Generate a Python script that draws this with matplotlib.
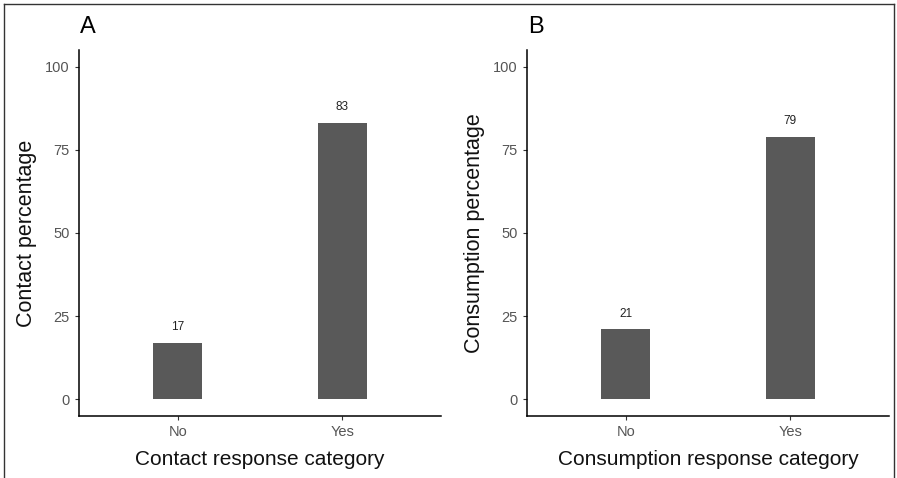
import matplotlib
matplotlib.use("Agg")
import matplotlib.pyplot as plt
from matplotlib.lines import Line2D

plt.rcParams['font.family'] = ['Liberation Sans', 'DejaVu Sans']

categories = ["No", "Yes"]
contact_values = [17, 83]
consumption_values = [21, 79]
yticks = [0, 25, 50, 75, 100]
panel_labels = ["A", "B"]
ylabels = ["Contact percentage", "Consumption percentage"]
xlabels = ["Contact response category", "Consumption response category"]

fig = plt.figure(figsize=(8.97, 4.78), dpi=100)
bar_color = "#595959"
tick_color = "#555555"

lefts = [79/897, 527/897]
width = 362/897
bottom = (478-416)/478
height = 366/478

for i, vals in enumerate([contact_values, consumption_values]):
    ax = fig.add_axes([lefts[i], bottom, width, height])
    x = list(range(1, len(categories)+1))
    ax.bar(x, vals, width=0.3, color=bar_color)
    for xi, v in zip(x, vals):
        ax.text(xi, v + 3, str(v), ha="center", va="bottom", fontsize=8.5, color="#222222")
    ax.set_xlim(0.4, 2.6)
    ax.set_ylim(-5, 105)
    ax.set_xticks(x)
    ax.set_xticklabels(categories)
    ax.set_yticks(yticks)
    ax.tick_params(axis="both", colors="#333333", labelcolor=tick_color, labelsize=10.5, length=3, width=0.8)
    for s in ["top", "right"]:
        ax.spines[s].set_visible(False)
    for s in ["left", "bottom"]:
        ax.spines[s].set_linewidth(1.1)
        ax.spines[s].set_color("black")
    ax.set_ylabel(ylabels[i], fontsize=15.5, labelpad=6, color="#111111")
    ax.set_xlabel(xlabels[i], fontsize=15, labelpad=8, color="#111111")
    fig.text(lefts[i] + 1/897, 1 - 27/478, panel_labels[i], fontsize=17, ha="left", va="center")

# outer frame
fig.add_artist(Line2D([4/897, 4/897], [0, 1 - 4/478], transform=fig.transFigure, color="#333333", lw=1))
fig.add_artist(Line2D([4/897, 894/897], [1 - 4/478, 1 - 4/478], transform=fig.transFigure, color="#333333", lw=1))
fig.add_artist(Line2D([894/897, 894/897], [0, 1 - 4/478], transform=fig.transFigure, color="#333333", lw=1))

fig.savefig("out.png", dpi=100, facecolor="white")
